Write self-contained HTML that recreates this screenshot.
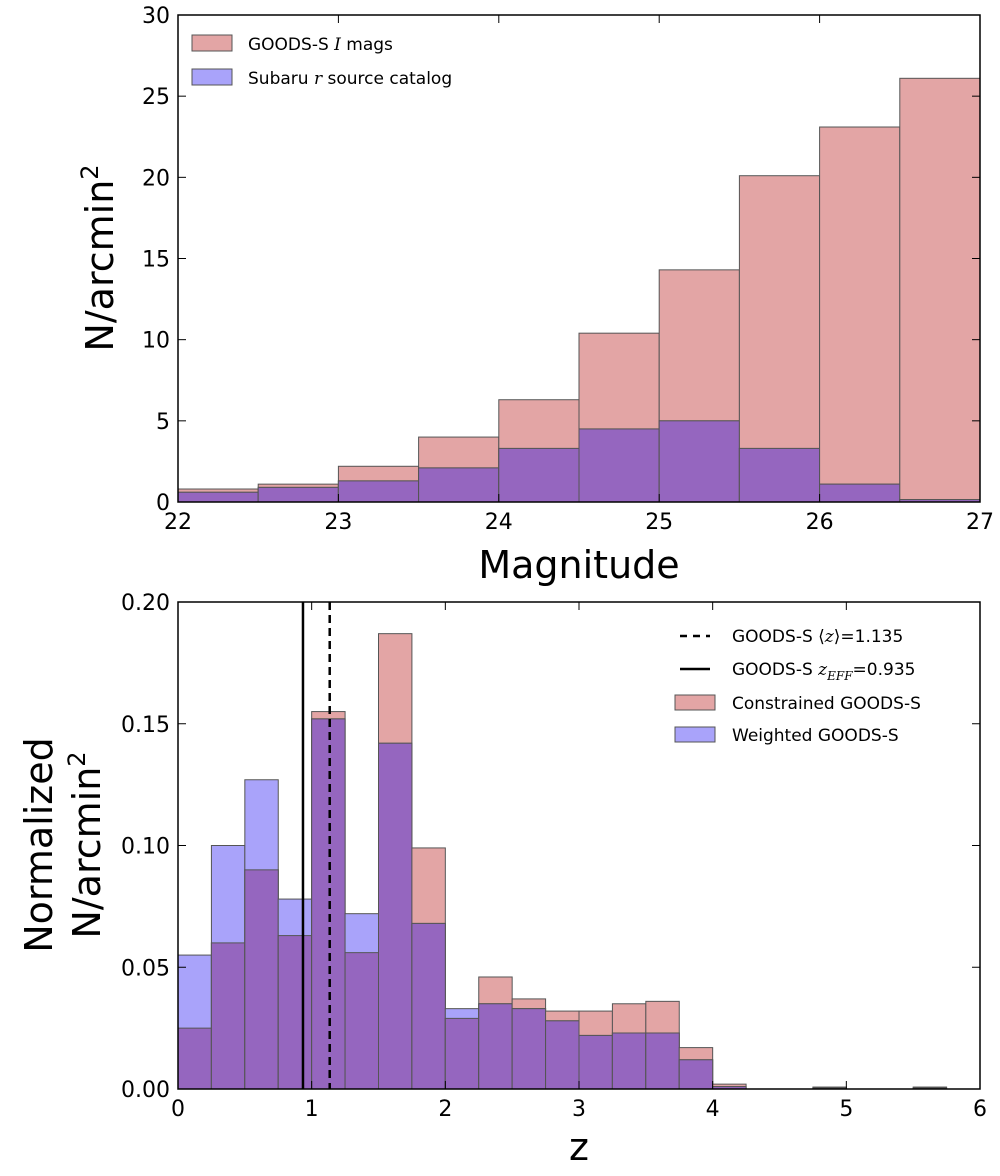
<!DOCTYPE html>
<html><head><meta charset="utf-8"><style>
body{margin:0;background:#fff}
svg text{font-family:"DejaVu Sans","Liberation Sans",sans-serif;fill:#000}
</style></head><body>
<svg id="chart" width="1000" height="1171" viewBox="0 0 1000 1171" xmlns="http://www.w3.org/2000/svg">
<g id="top"></g>
<g id="bot"></g>
</svg>
<script>
const magBins=[22,22.5,23,23.5,24,24.5,25,25.5,26,26.5];
const goodsMag=[0.8,1.1,2.2,4.0,6.3,10.4,14.3,20.1,23.1,26.1];
const subaruMag=[0.6,0.9,1.3,2.1,3.3,4.5,5.0,3.3,1.1,0.15];
const magTicks=[22,23,24,25,26,27];
const nTicks=[0,5,10,15,20,25,30];
const zBins=[0,0.25,0.5,0.75,1,1.25,1.5,1.75,2,2.25,2.5,2.75,3,3.25,3.5,3.75,4,4.75,5.5];
const constrainedZ=[0.025,0.060,0.090,0.063,0.155,0.056,0.187,0.099,0.029,0.046,0.037,0.032,0.032,0.035,0.036,0.017,0.002,0.0008,0.0008];
const weightedZ=[0.055,0.100,0.127,0.078,0.152,0.072,0.142,0.068,0.033,0.035,0.033,0.028,0.022,0.023,0.023,0.012,0.001,0.0004,0.0004];
const zTicks=[0,1,2,3,4,5,6];
const yTicks=[0,0.05,0.10,0.15,0.20];
const meanZ=1.135, effZ=0.935;
const NS="http://www.w3.org/2000/svg";
const RED="#e3a5a5",BLUE="#a9a3fa",PURP="#9566bf",EDGE="#555";
function el(p,t,a){const e=document.createElementNS(NS,t);for(const k in a)e.setAttribute(k,a[k]);p.appendChild(e);return e;}
function panel(g,X0,X1,Y0,Y1,xmin,xmax,ymin,ymax){
 const sx=v=>X0+(v-xmin)/(xmax-xmin)*(X1-X0);
 const sy=v=>Y0-(v-ymin)/(ymax-ymin)*(Y0-Y1);
 return [sx,sy];}
function bars(g,sx,sy,bins,w,a,b){
 for(let i=0;i<bins.length;i++){
  const x0=sx(bins[i]),x1=sx(bins[i]+w);
  const r=el(g,'rect',{x:x0,y:sy(a[i]),width:x1-x0,height:sy(0)-sy(a[i]),fill:RED,stroke:EDGE,'stroke-width':1});
  
  
  const bb=el(g,'rect',{x:x0,y:sy(b[i]),width:x1-x0,height:sy(0)-sy(b[i]),fill:BLUE,stroke:EDGE,'stroke-width':1});
  
  
  const m=Math.min(a[i],b[i]);
  const p=el(g,'rect',{x:x0,y:sy(m),width:x1-x0,height:sy(0)-sy(m),fill:PURP,stroke:EDGE,'stroke-width':1});
  
  
 }}
function axes(g,X0,X1,Y0,Y1,sx,sy,xt,yt,yfmt){
 el(g,'rect',{x:X0,y:Y1,width:X1-X0,height:Y0-Y1,fill:'none',stroke:'#000','stroke-width':1.5});
 xt.forEach(v=>{const x=sx(v);el(g,'line',{x1:x,x2:x,y1:Y0,y2:Y0-8,stroke:'#000'});el(g,'line',{x1:x,x2:x,y1:Y1,y2:Y1+8,stroke:'#000'});
  const t=el(g,'text',{x:x,y:Y0+27,'font-size':22,'text-anchor':'middle'});t.textContent=v;
  
  });
 yt.forEach(v=>{const y=sy(v);el(g,'line',{x1:X0,x2:X0+8,y1:y,y2:y,stroke:'#000'});el(g,'line',{x1:X1,x2:X1-8,y1:y,y2:y,stroke:'#000'});
  const t=el(g,'text',{x:X0-8,y:y+8,'font-size':22,'text-anchor':'end'});t.textContent=yfmt(v);
  
  });
}
// top
const T=document.getElementById('top');
let [sx,sy]=panel(T,178,980,502,15,22,27,0,30);
bars(T,sx,sy,magBins,0.5,goodsMag,subaruMag);
axes(T,178,980,502,15,sx,sy,magTicks,nTicks,v=>v);
// bottom
const B=document.getElementById('bot');
let [zx,zy]=panel(B,178,980,1089,602,0,6,0,0.2);
bars(B,zx,zy,zBins,0.25,constrainedZ,weightedZ);
el(B,'line',{x1:zx(meanZ),x2:zx(meanZ),y1:602,y2:1089,stroke:'#000','stroke-width':2.5,'stroke-dasharray':'8,5'});
el(B,'line',{x1:zx(effZ),x2:zx(effZ),y1:602,y2:1089,stroke:'#000','stroke-width':2.5});
axes(B,178,980,1089,602,zx,zy,zTicks,yTicks,v=>v.toFixed(2));
</script>
<svg style="position:absolute;left:0;top:0" width="1000" height="1171">
<g>
<rect x="192" y="35" width="40" height="16" fill="#e3a5a5" stroke="#555"/>
<text x="248" y="50" font-size="17" font-family="DejaVu Sans,sans-serif">GOODS-S <tspan font-style="italic" font-family="DejaVu Serif,serif">I</tspan> mags</text>
<rect x="192" y="69" width="40" height="16" fill="#a9a3fa" stroke="#555"/>
<text x="248" y="84" font-size="17" font-family="DejaVu Sans,sans-serif">Subaru <tspan font-style="italic" font-family="DejaVu Serif,serif">r</tspan> source catalog</text>
</g>
<text transform="translate(113,258) rotate(-90)" text-anchor="middle" font-size="38" font-family="DejaVu Sans,sans-serif">N/arcmin<tspan dy="-15" font-size="24">2</tspan></text>
<text x="579" y="578" text-anchor="middle" font-size="38" font-family="DejaVu Sans,sans-serif">Magnitude</text>
<g font-family="DejaVu Sans,sans-serif" font-size="17">
<line x1="680" x2="710" y1="636" y2="636" stroke="#000" stroke-width="2.5" stroke-dasharray="7,6"/>
<text x="732" y="642">GOODS-S ⟨<tspan font-style="italic" font-family="DejaVu Serif,serif">z</tspan>⟩=1.135</text>
<line x1="680" x2="710" y1="669" y2="669" stroke="#000" stroke-width="2.5"/>
<text x="732" y="675">GOODS-S <tspan font-style="italic" font-family="DejaVu Serif,serif">z</tspan><tspan font-size="12" dy="5" font-style="italic" font-family="DejaVu Serif,serif">EFF</tspan><tspan dy="-5">=0.935</tspan></text>
<rect x="675" y="695" width="40" height="15" fill="#e3a5a5" stroke="#555"/>
<text x="732" y="709">Constrained GOODS-S</text>
<rect x="675" y="727" width="40" height="15" fill="#a9a3fa" stroke="#555"/>
<text x="732" y="741">Weighted GOODS-S</text>
</g>
<text transform="translate(52,845) rotate(-90)" text-anchor="middle" font-size="38" font-family="DejaVu Sans,sans-serif">Normalized</text>
<text transform="translate(100,845) rotate(-90)" text-anchor="middle" font-size="38" font-family="DejaVu Sans,sans-serif">N/arcmin<tspan dy="-15" font-size="24">2</tspan></text>
<text x="579" y="1160" text-anchor="middle" font-size="38" font-family="DejaVu Sans,sans-serif">z</text>
</svg>
</body></html>
